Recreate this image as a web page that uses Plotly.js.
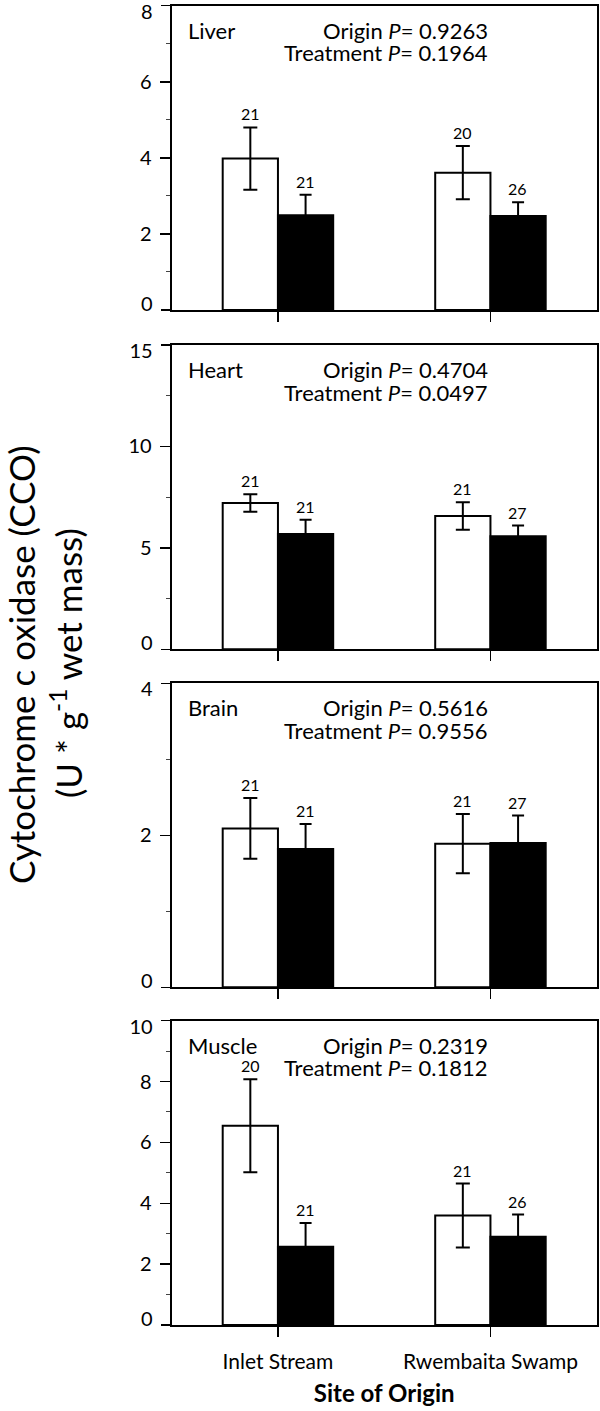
<!DOCTYPE html>
<html>
<head>
<meta charset="utf-8">
<script src="https://cdn.plot.ly/plotly-3.0.1.min.js"></script>
<style>
  html, body { margin: 0; padding: 0; background: #fff; }
  #chart { width: 600px; height: 1411px; }
</style>
</head>
<body>
<div id="chart"></div>
<script>
// ---------------- DATA ----------------
const sites = ['Inlet Stream', 'Rwembaita Swamp'];
const tissues = ['Liver', 'Heart', 'Brain', 'Muscle'];

// open (white) bars and filled (black) bars: mean, SE, sample size
const liverOpen = [3.98, 3.61];
const liverOpenErr = [0.82, 0.70];
const liverOpenN = [21, 20];
const liverFilled = [2.49, 2.47];
const liverFilledErr = [0.54, 0.36];
const liverFilledN = [21, 26];

const heartOpen = [7.21, 6.57];
const heartOpenErr = [0.43, 0.68];
const heartOpenN = [21, 21];
const heartFilled = [5.68, 5.57];
const heartFilledErr = [0.71, 0.53];
const heartFilledN = [21, 27];

const brainOpen = [2.09, 1.89];
const brainOpenErr = [0.40, 0.39];
const brainOpenN = [21, 21];
const brainFilled = [1.82, 1.90];
const brainFilledErr = [0.33, 0.36];
const brainFilledN = [21, 27];

const muscleOpen = [6.55, 3.60];
const muscleOpenErr = [1.53, 1.05];
const muscleOpenN = [20, 21];
const muscleFilled = [2.57, 2.90];
const muscleFilledErr = [0.78, 0.73];
const muscleFilledN = [21, 26];

const originP = ['0.9263', '0.4704', '0.5616', '0.2319'];
const treatmentP = ['0.1964', '0.0497', '0.9556', '0.1812'];

// y-axis ticks (major labelled, minor unlabelled)
const liverTicks = [0, 2, 4, 6, 8];
const liverMinor = [1, 3, 5, 7];
const heartTicks = [0, 5, 10, 15];
const heartMinor = [2.5, 7.5, 12.5];
const brainTicks = [0, 2, 4];
const brainMinor = [1, 3];
const muscleTicks = [0, 2, 4, 6, 8, 10];
const muscleMinor = [1, 3, 5, 7, 9];

// ---------------- LAYOUT HELPERS ----------------
const W = 600, H = 1411;
const plotLeft = 171.7, plotRight = 596.7;
const panelTop = [5.7, 345, 683.3, 1020.7];
const panelBottom = [310, 649.3, 987.3, 1325];
const fy = p => 1 - p / H;
const FONT = 'Lato, Open Sans, sans-serif';

const panels = [
  { open: liverOpen, openErr: liverOpenErr, openN: liverOpenN, filled: liverFilled, filledErr: liverFilledErr, filledN: liverFilledN, ticks: liverTicks, minor: liverMinor },
  { open: heartOpen, openErr: heartOpenErr, openN: heartOpenN, filled: heartFilled, filledErr: heartFilledErr, filledN: heartFilledN, ticks: heartTicks, minor: heartMinor },
  { open: brainOpen, openErr: brainOpenErr, openN: brainOpenN, filled: brainFilled, filledErr: brainFilledErr, filledN: brainFilledN, ticks: brainTicks, minor: brainMinor },
  { open: muscleOpen, openErr: muscleOpenErr, openN: muscleOpenN, filled: muscleFilled, filledErr: muscleFilledErr, filledN: muscleFilledN, ticks: muscleTicks, minor: muscleMinor }
];

const data = [];
const annotations = [];
const layout = {
  width: W, height: H,
  margin: { l: 0, r: 0, t: 0, b: 0 },
  paper_bgcolor: '#fff', plot_bgcolor: '#fff',
  showlegend: false,
  barmode: 'group', bargap: 0.48, bargroupgap: 0,
  font: { family: FONT, color: '#000' },
  annotations: annotations
};

const tickFont = { family: FONT, size: 20, color: '#000' };

panels.forEach((p, i) => {
  const sx = i === 0 ? '' : String(i + 1);
  const xa = 'x' + sx, ya = 'y' + sx;
  const errStyle = (arr, w) => ({ type: 'data', array: arr, visible: true, color: '#000', thickness: 2, width: w });

  data.push({
    type: 'bar', name: 'Open bars', x: sites, y: p.open, xaxis: xa, yaxis: ya,
    marker: { color: '#fff', line: { color: '#000', width: 2 } },
    error_y: errStyle(p.openErr, 7), hoverinfo: 'x+y'
  });
  data.push({
    type: 'bar', name: 'Filled bars', x: sites, y: p.filled, xaxis: xa, yaxis: ya,
    marker: { color: '#000', line: { color: '#000', width: 2 } },
    error_y: errStyle(p.filledErr, 6), hoverinfo: 'x+y'
  });

  const yRange = [p.ticks[0], p.ticks[p.ticks.length - 1]];
  const inner = p.ticks.slice(1, -1);

  layout['xaxis' + sx] = {
    domain: [plotLeft / W, plotRight / W], anchor: ya,
    type: 'category', range: [-0.5, 1.5],
    showline: true, linecolor: '#000', linewidth: 2, mirror: true,
    ticks: 'outside', ticklen: 10, tickwidth: 1.5, tickcolor: '#000',
    showticklabels: i === 3, showgrid: false, zeroline: false,
    tickfont: { family: FONT, size: 21, color: '#000' },
    ticklabelstandoff: 7,
    fixedrange: true
  };
  // main y axis: frame, inner labelled ticks and minor ticks
  layout['yaxis' + sx] = {
    domain: [fy(panelBottom[i]), fy(panelTop[i])], anchor: xa,
    range: yRange, tickmode: 'array', tickvals: inner, ticktext: inner.map(String),
    showline: true, linecolor: '#000', linewidth: 2, mirror: true,
    ticks: 'outside', ticklen: 10, tickwidth: 1.5, tickcolor: '#000',
    minor: { tickmode: 'array', tickvals: p.minor, ticks: 'outside', ticklen: 4, tickwidth: 1, tickcolor: '#444', showgrid: false },
    showgrid: false, zeroline: false,
    tickfont: tickFont, ticklabelstandoff: 4,
    fixedrange: true
  };
  // end labels: top label nudged down inside the frame, bottom label nudged up
  const topId = 5 + i * 2, botId = 6 + i * 2;
  const endAxis = (val, shift) => ({
    overlaying: ya, anchor: xa, side: 'left', range: yRange,
    tickmode: 'array', tickvals: [val], ticktext: [String(val)],
    ticklabelshift: shift, ticklabeloverflow: 'allow',
    ticks: 'outside', ticklen: 10, tickwidth: 1.5, tickcolor: '#000',
    showline: false, showgrid: false, zeroline: false,
    tickfont: tickFont, ticklabelstandoff: 4, fixedrange: true
  });
  layout['yaxis' + topId] = endAxis(yRange[1], 6);
  layout['yaxis' + botId] = endAxis(yRange[0], -6);
  // empty traces so the overlay axes get their subplots
  [topId, botId].forEach(id => data.push({
    type: 'scatter', mode: 'markers', x: [], y: [], xaxis: xa, yaxis: 'y' + id,
    showlegend: false, hoverinfo: 'skip'
  }));

  // sample sizes above error bars
  sites.forEach((s, j) => {
    annotations.push({ xref: xa, yref: ya, x: s, y: p.open[j] + p.openErr[j], xshift: -27.5, yshift: 2,
      text: String(p.openN[j]), showarrow: false, yanchor: 'bottom', xanchor: 'center',
      font: { family: FONT, size: 16, color: '#000' } });
    annotations.push({ xref: xa, yref: ya, x: s, y: p.filled[j] + p.filledErr[j], xshift: 27.5, yshift: 2,
      text: String(p.filledN[j]), showarrow: false, yanchor: 'bottom', xanchor: 'center',
      font: { family: FONT, size: 16, color: '#000' } });
  });

  const fs = 22;
  const line1 = panelTop[i] + 32.3 - 0.36 * fs;
  const line2 = line1 + 22.7;
  annotations.push({ xref: 'paper', yref: 'paper', x: 186 / W, y: fy(line1), xanchor: 'left', yanchor: 'middle',
    text: tissues[i], showarrow: false, font: { family: FONT, size: fs, color: '#000' } });
  annotations.push({ xref: 'paper', yref: 'paper', x: 489.5 / W, y: fy(line1), xanchor: 'right', yanchor: 'middle',
    text: 'Origin <i>P</i>= ' + originP[i], showarrow: false, font: { family: FONT, size: fs, color: '#000' } });
  annotations.push({ xref: 'paper', yref: 'paper', x: 489.5 / W, y: fy(line2), xanchor: 'right', yanchor: 'middle',
    text: 'Treatment <i>P</i>= ' + treatmentP[i], showarrow: false, font: { family: FONT, size: fs, color: '#000' } });
});

layout.xaxis4.title = { text: '<b>Site of Origin</b>', font: { family: FONT, size: 24, color: '#000' }, standoff: 13 };

// shared y-axis title (two lines)
annotations.push({ xref: 'paper', yref: 'paper', x: 21 / W, y: fy(665), xanchor: 'center', yanchor: 'middle',
  textangle: -90, text: 'Cytochrome c oxidase (CCO)', showarrow: false,
  font: { family: FONT, size: 35, color: '#000' } });
annotations.push({ xref: 'paper', yref: 'paper', x: 66 / W, y: fy(663), xanchor: 'center', yanchor: 'middle',
  textangle: -90, text: '(U * g<sup>-1</sup> wet mass)', showarrow: false,
  font: { family: FONT, size: 35, color: '#000' } });

Plotly.newPlot('chart', data, layout, { displayModeBar: false, staticPlot: true });
</script>
</body>
</html>
